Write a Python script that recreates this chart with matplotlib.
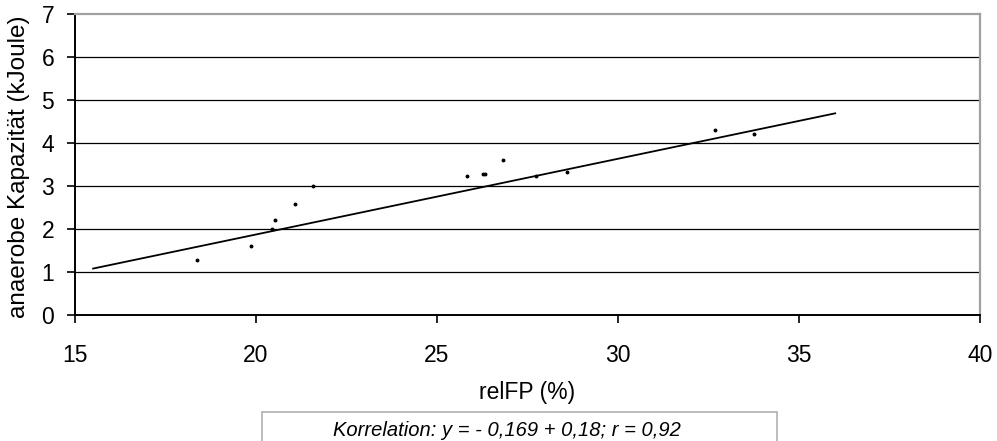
import matplotlib
matplotlib.use("Agg")
import matplotlib.pyplot as plt
from matplotlib.patches import Rectangle

plt.rcParams['font.family'] = ['Liberation Sans', 'DejaVu Sans']

# Data
relfp = [18.38, 19.87, 20.43, 20.53, 21.09, 21.58, 25.84, 26.28, 26.32, 26.83, 27.73, 28.60, 32.69, 33.76]
kapazitaet = [1.28, 1.60, 1.99, 2.21, 2.58, 3.01, 3.23, 3.28, 3.28, 3.60, 3.23, 3.33, 4.30, 4.21]
trend_x = [15.5, 36.0]
trend_y = [1.08, 4.69]
x_ticks = [15, 20, 25, 30, 35, 40]
y_ticks = [0, 1, 2, 3, 4, 5, 6, 7]
caption = "Korrelation: y = - 0,169 + 0,18; r = 0,92"

W, H = 997, 441
X0, X1, Y0, Y1 = 75, 980, 315, 14
fig = plt.figure(figsize=(W / 100, H / 100), dpi=100)
ax = fig.add_axes([X0 / W, (H - Y0) / H, (X1 - X0) / W, (Y0 - Y1) / H])

ax.set_xlim(15, 40)
ax.set_ylim(0, 7)
ax.set_xticks(x_ticks)
ax.set_yticks(y_ticks)

for yv in y_ticks[1:-1]:
    ax.axhline(yv, color='black', lw=0.9, zorder=1)

ax.plot(trend_x, trend_y, color='black', lw=1.3, zorder=3)
ax.plot(relfp, kapazitaet, linestyle='none', marker='o', ms=1.8, color='black', zorder=4)

for s in ['top', 'right']:
    ax.spines[s].set_color('#a0a0a0')
    ax.spines[s].set_linewidth(1.6)
for s in ['left', 'bottom']:
    ax.spines[s].set_color('black')
    ax.spines[s].set_linewidth(1.4)

ax.tick_params(axis='both', direction='out', length=6, width=1.2, labelsize=16.5, colors='black')
ax.tick_params(axis='x', pad=15)
ax.tick_params(axis='y', pad=9)

ax.set_xlabel("relFP (%)", fontsize=16.5, va='center')
ax.xaxis.set_label_coords((527 - X0) / (X1 - X0), (Y0 - 393) / (Y0 - Y1))
ax.set_ylabel("anaerobe Kapazität (kJoule)", fontsize=17.5, va='center')
ax.yaxis.set_label_coords((19 - X0) / (X1 - X0), (Y0 - 167) / (Y0 - Y1))

fig.patches.append(Rectangle((262 / W, -0.05), (777 - 262) / W, (441 - 412) / H + 0.05,
                             transform=fig.transFigure, facecolor='white', edgecolor='#b0b0b0', lw=1.2))
fig.text(507 / W, (H - 430) / H, caption, fontsize=14.5, style='italic', ha='center', va='center')

fig.savefig("out.png", dpi=100)
